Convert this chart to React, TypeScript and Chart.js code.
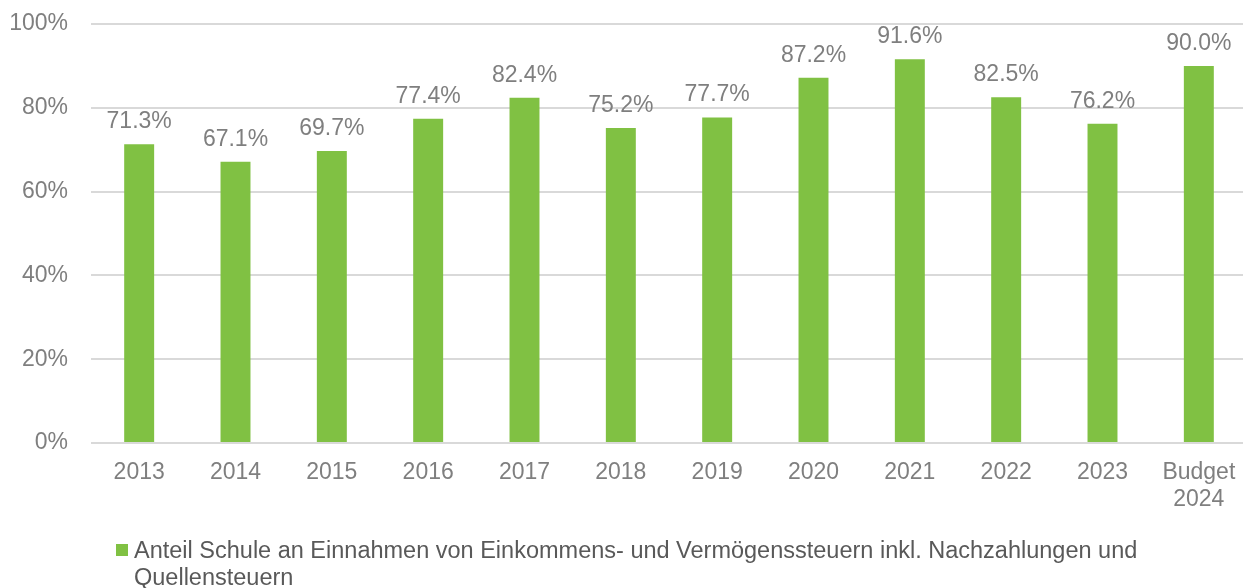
import React, { useEffect, useRef } from "react";
import { Chart, registerables } from "chart.js";

Chart.register(...registerables);

const categories: (string | string[])[] = [
  "2013", "2014", "2015", "2016", "2017", "2018", "2019", "2020", "2021", "2022", "2023", ["Budget", "2024"],
];
const shareValues: number[] = [71.3, 67.1, 69.7, 77.4, 82.4, 75.2, 77.7, 87.2, 91.6, 82.5, 76.2, 90.0];
const seriesLabel =
  "Anteil Schule an Einnahmen von Einkommens- und Vermögenssteuern inkl. Nachzahlungen und Quellensteuern";
const yTickValues: number[] = [0, 20, 40, 60, 80, 100];

const FONT = "'Liberation Sans', Arial, sans-serif";
const GREEN = "#80C143";
const TICK_COLOR = "#7F7F7F";
const LEGEND_COLOR = "#595959";

const dataLabelPlugin = {
  id: "dataLabels",
  afterDatasetsDraw(chart: any) {
    const ctx = chart.ctx;
    const meta = chart.getDatasetMeta(0);
    ctx.save();
    ctx.font = `23px ${FONT}`;
    ctx.fillStyle = TICK_COLOR;
    ctx.textAlign = "center";
    ctx.textBaseline = "alphabetic";
    meta.data.forEach((bar: any, i: number) => {
      const v = chart.data.datasets[0].data[i] as number;
      ctx.fillText(v.toFixed(1) + "%", bar.x, bar.y - 16);
    });
    ctx.restore();
  },
};

const legendPlugin = {
  id: "customLegend",
  afterDraw(chart: any) {
    const ctx = chart.ctx;
    const ds = chart.data.datasets[0];
    ctx.save();
    ctx.fillStyle = ds.backgroundColor;
    ctx.fillRect(116, 544, 12, 12);
    ctx.font = `23.5px ${FONT}`;
    ctx.fillStyle = LEGEND_COLOR;
    ctx.textAlign = "left";
    ctx.textBaseline = "alphabetic";
    const words = String(ds.label).split(" ");
    const maxWidth = 1080;
    const lines: string[] = [];
    let cur = "";
    for (const w of words) {
      const test = cur ? cur + " " + w : w;
      if (ctx.measureText(test).width > maxWidth && cur) {
        lines.push(cur);
        cur = w;
      } else cur = test;
    }
    if (cur) lines.push(cur);
    lines.forEach((l, i) => ctx.fillText(l, 134, 558 + i * 27));
    ctx.restore();
  },
};

export default function App() {
  const ref = useRef<HTMLCanvasElement | null>(null);
  useEffect(() => {
    if (!ref.current) return;
    const chart = new Chart(ref.current, {
      type: "bar",
      data: {
        labels: categories,
        datasets: [
          {
            label: seriesLabel,
            data: shareValues,
            backgroundColor: GREEN,
            borderWidth: 0,
            barPercentage: 0.311,
            categoryPercentage: 1,
          },
        ],
      },
      options: {
        animation: false,
        responsive: false,
        maintainAspectRatio: false,
        layout: { padding: { top: 24, left: 0, right: 0, bottom: 0 } },
        plugins: {
          legend: { display: false },
          tooltip: { enabled: false },
        },
        scales: {
          x: {
            grid: { display: false, drawTicks: false },
            border: { display: false },
            ticks: {
              color: TICK_COLOR,
              font: { family: FONT, size: 23, lineHeight: 1.17 },
              padding: 16,
              maxRotation: 0,
              autoSkip: false,
            },
            afterFit(scale: any) {
              scale.height = 588 - 443;
              scale.paddingLeft = 0;
              scale.paddingRight = 0;
            },
          },
          y: {
            min: 0,
            max: 100,
            afterBuildTicks(scale: any) {
              scale.ticks = yTickValues.map((v) => ({ value: v }));
            },
            grid: { color: "#D9D9D9", lineWidth: 2, drawTicks: false },
            border: { display: false },
            ticks: {
              color: TICK_COLOR,
              font: { family: FONT, size: 23 },
              padding: 23,
              callback: (v: any) => v + "%",
            },
            afterFit(scale: any) {
              scale.width = 91;
              scale.paddingTop = 0;
              scale.paddingBottom = 0;
            },
          },
        },
      },
      plugins: [dataLabelPlugin, legendPlugin],
    });
    return () => chart.destroy();
  }, []);
  return (
    <div style={{ position: "absolute", left: 0, top: 0, width: 1243, height: 588, overflow: "hidden", background: "#fff" }}>
      <canvas ref={ref} width={1247} height={588} style={{ display: "block", width: 1247, height: 588 }} />
    </div>
  );
}
